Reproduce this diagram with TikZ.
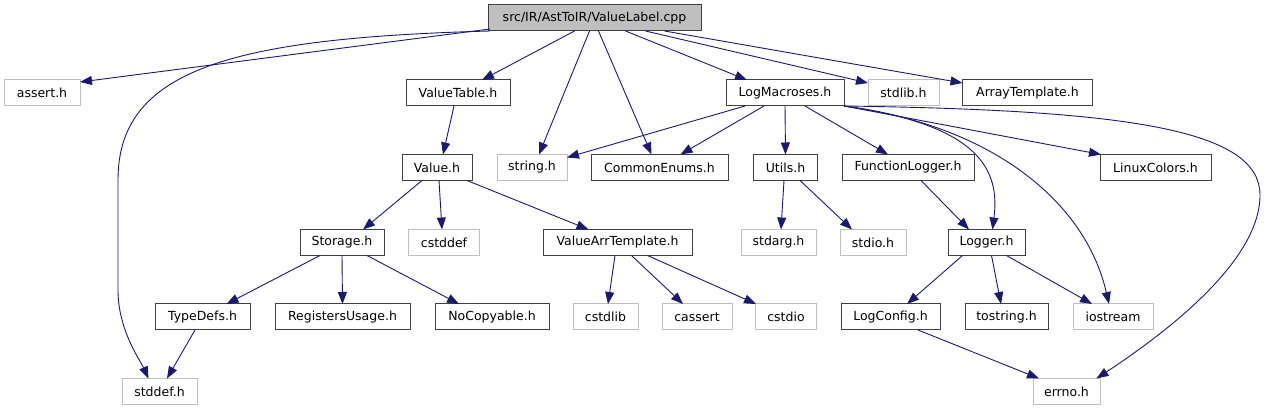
\documentclass[tikz,border=0pt]{standalone}
\usepackage{fontspec}
\setmainfont{DejaVu Sans}
\usetikzlibrary{arrows.meta}
\definecolor{edgec}{HTML}{191970}
\definecolor{grayb}{HTML}{BFBFBF}
\definecolor{darkb}{HTML}{404040}
\tikzset{
  box/.style={line width=1pt, minimum height=26pt, inner sep=0pt, outer sep=0pt, font=\fontsize{12.5}{14}\selectfont, anchor=center},
  docnode/.style={box, draw=darkb, fill=white},
  sysnode/.style={box, draw=grayb, fill=white},
  mainnode/.style={box, draw=darkb, fill=grayb},
  edge/.style={draw=edgec, line width=0.9pt, -{Triangle[length=12pt,width=9pt]}}
}
\begin{document}
\begin{tikzpicture}[x=1pt,y=-1pt]
\useasboundingbox (0,0) rectangle (1269,411);
% row 0
\node[mainnode, minimum width=213pt] (vl) at (594.5,18) {src/IR/AstToIR/ValueLabel.cpp};
% row 1
\node[sysnode, minimum width=76pt] (assert) at (42,93) {assert.h};
\node[docnode, minimum width=104pt] (vtable) at (458,93) {ValueTable.h};
\node[docnode, minimum width=118pt] (logm) at (785,93) {LogMacroses.h};
\node[sysnode, minimum width=71pt] (stdlib) at (903.5,93) {stdlib.h};
\node[docnode, minimum width=130pt] (arrt) at (1027.5,93) {ArrayTemplate.h};
% row 2
\node[docnode, minimum width=70pt] (value) at (437,167.5) {Value.h};
\node[sysnode, minimum width=70pt] (string) at (532,167.5) {string.h};
\node[docnode, minimum width=137pt] (cenums) at (659.5,167.5) {CommonEnums.h};
\node[docnode, minimum width=64pt] (utils) at (785.5,167.5) {Utils.h};
\node[docnode, minimum width=132pt] (flog) at (908,167.5) {FunctionLogger.h};
\node[docnode, minimum width=111pt] (lcol) at (1155.5,167.5) {LinuxColors.h};
% row 3
\node[docnode, minimum width=84pt] (storage) at (342,242.5) {Storage.h};
\node[sysnode, minimum width=71pt] (cstddef) at (444,242.5) {cstddef};
\node[docnode, minimum width=149pt] (varr) at (617.5,242.5) {ValueArrTemplate.h};
\node[sysnode, minimum width=75pt] (stdarg) at (778.5,242.5) {stdarg.h};
\node[sysnode, minimum width=66pt] (stdio) at (873,242.5) {stdio.h};
\node[docnode, minimum width=77pt] (logger) at (986.5,242.5) {Logger.h};
% row 4
\node[docnode, minimum width=95pt] (typedefs) at (202.5,317) {TypeDefs.h};
\node[docnode, minimum width=135pt] (regu) at (342.5,317) {RegistersUsage.h};
\node[docnode, minimum width=114pt] (nocopy) at (492,317) {NoCopyable.h};
\node[sysnode, minimum width=65pt] (cstdlib) at (605.5,317) {cstdlib};
\node[sysnode, minimum width=70pt] (cassert) at (697,317) {cassert};
\node[sysnode, minimum width=61pt] (cstdio) at (786,317) {cstdio};
\node[docnode, minimum width=99pt] (logconf) at (890.5,317) {LogConfig.h};
\node[docnode, minimum width=83pt] (tostring) at (1006.5,317) {tostring.h};
\node[sysnode, minimum width=80pt] (iostream) at (1113,317) {iostream};
% row 5
\node[sysnode, minimum width=75pt] (stddef) at (159.5,391.5) {stddef.h};
\node[sysnode, minimum width=67pt] (errno) at (1066.5,391.5) {errno.h};

% edges from ValueLabel.cpp
\draw[edge] ([xshift=2pt,yshift=2pt]vl.south west) -- ([yshift=-2pt]assert.north east);
\draw[edge] ([xshift=2pt]vl.south west) .. controls (230,38) and (118,70) .. (118,180) -- (118,290) .. controls (118,330) and (140,360) .. ([xshift=-11pt]stddef.north);
\draw[edge] ([xshift=-20pt]vl.south) -- ([xshift=24pt]vtable.north);
\draw[edge] ([xshift=-5pt]vl.south) -- ([xshift=7pt]string.north);
\draw[edge] ([xshift=4pt]vl.south) -- ([xshift=-8pt]cenums.north);
\draw[edge] ([xshift=31pt]vl.south) -- ([xshift=-38pt]logm.north);
\draw[edge] ([xshift=51pt]vl.south) -- ([yshift=-3pt]stdlib.north west);
\draw[edge] ([xshift=70pt]vl.south) -- ([yshift=-3pt]arrt.north west);
% ValueTable
\draw[edge] ([xshift=-4pt]vtable.south) -- ([xshift=6pt]value.north);
% LogMacroses
\draw[edge] ([xshift=-40pt]logm.south) -- ([yshift=-3pt]string.north east);
\draw[edge] ([xshift=-21pt]logm.south) -- ([xshift=21pt]cenums.north);
\draw[edge] (logm.south) -- (utils.north);
\draw[edge] ([xshift=20pt]logm.south) -- ([xshift=-20pt]flog.north);
\draw[edge] (logm.south east) .. controls (980,125) and (1000,170) .. ([xshift=6pt]logger.north);
\draw[edge] (logm.south east) -- ([xshift=1pt]lcol.north west);
\draw[edge] (logm.south east) .. controls (990,125) and (1085,200) .. ([xshift=-4pt]iostream.north);
\draw[edge] (logm.south east) .. controls (1130,110) and (1260,130) .. (1260,195) .. controls (1260,260) and (1170,330) .. ([xshift=30pt]errno.north);
% Value.h
\draw[edge] ([xshift=-15pt]value.south) -- ([xshift=21pt]storage.north);
\draw[edge] ([xshift=2pt]value.south) -- ([xshift=-2pt]cstddef.north);
\draw[edge] ([xshift=30pt]value.south) -- ([xshift=-29pt]varr.north);
% Utils.h
\draw[edge] ([xshift=-1.5pt]utils.south) -- ([xshift=2.5pt]stdarg.north);
\draw[edge] ([xshift=14.5pt]utils.south) -- ([xshift=-21pt]stdio.north);
% FunctionLogger.h
\draw[edge] ([xshift=13pt]flog.south) -- ([xshift=-17.5pt]logger.north);
% Storage.h
\draw[edge] ([xshift=-22pt]storage.south) -- ([xshift=24pt]typedefs.north);
\draw[edge] (storage.south) -- (regu.north);
\draw[edge] ([xshift=25pt]storage.south) -- ([xshift=-33pt]nocopy.north);
% ValueArrTemplate.h
\draw[edge] ([xshift=-2.5pt]varr.south) -- ([xshift=2.5pt]cstdlib.north);
\draw[edge] ([xshift=14pt]varr.south) -- ([xshift=-14pt]cassert.north);
\draw[edge] ([xshift=30pt]varr.south) -- ([xshift=-30pt]cstdio.north);
% Logger.h
\draw[edge] ([xshift=-24pt]logger.south) -- ([xshift=16.5pt]logconf.north);
\draw[edge] ([xshift=5pt]logger.south) -- ([xshift=-5.5pt]tostring.north);
\draw[edge] ([xshift=20pt]logger.south) -- ([xshift=-21pt]iostream.north);
% TypeDefs.h
\draw[edge] ([xshift=-7.5pt]typedefs.south) -- ([xshift=7.5pt]stddef.north);
% LogConfig.h
\draw[edge] ([xshift=27.5pt]logconf.south) -- ([xshift=-27.5pt]errno.north);
\end{tikzpicture}
\end{document}
